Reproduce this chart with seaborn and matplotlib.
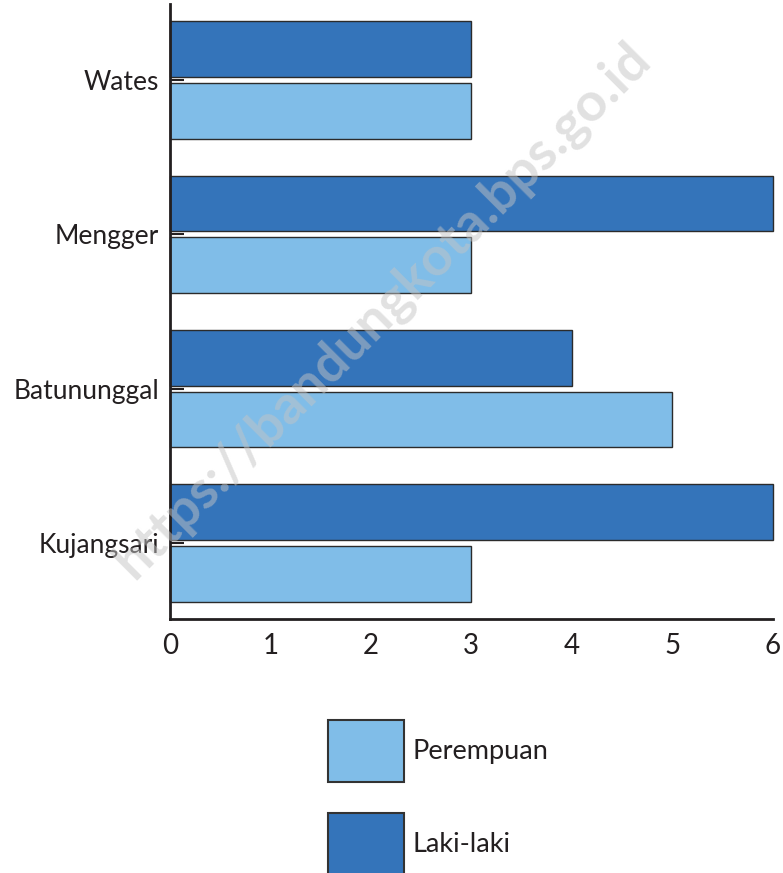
import pandas as pd
import matplotlib
matplotlib.use("Agg")
import matplotlib.pyplot as plt
import matplotlib.patches as mpatches
import seaborn as sns

# Data
categories = ["Wates", "Mengger", "Batununggal", "Kujangsari"]
laki_laki = [3, 6, 4, 6]
perempuan = [3, 3, 5, 3]
x_ticks = [0, 1, 2, 3, 4, 5, 6]

dark_blue = "#3474ba"
light_blue = "#80bde8"
edge = "#2b2b2b"
text_col = "#231f20"

df = pd.DataFrame({
    "Kelurahan": categories * 2,
    "Jumlah": laki_laki + perempuan,
    "Jenis": ["Laki-laki"] * len(categories) + ["Perempuan"] * len(categories),
})

sns.set_theme(style="white")
plt.rcParams["font.family"] = ["Lato", "DejaVu Sans"]

fig = plt.figure(figsize=(7.83, 8.73), dpi=100)
ax = fig.add_axes([0.2171, 0.2910, 0.7695, 0.7045])

sns.barplot(
    data=df, y="Kelurahan", x="Jumlah", hue="Jenis",
    hue_order=["Laki-laki", "Perempuan"],
    palette={"Laki-laki": dark_blue, "Perempuan": light_blue},
    order=categories, orient="h", width=0.8, gap=0.1,
    edgecolor=edge, linewidth=1.0, saturation=1, legend=False, ax=ax,
)
for p in ax.patches:
    p.set_clip_on(False)

ax.set_xlim(0, 6)
ax.set_ylim(3.4925, -0.4925)
ax.set_xticks(x_ticks)
ax.set_xlabel("")
ax.set_ylabel("")

for side in ["top", "right"]:
    ax.spines[side].set_visible(False)
for side in ["left", "bottom"]:
    ax.spines[side].set_linewidth(2)
    ax.spines[side].set_color(text_col)

ax.tick_params(axis="x", direction="in", length=11, width=1.5, color=text_col,
               labelsize=20, labelcolor=text_col, pad=10)
ax.tick_params(axis="y", direction="in", length=10, width=1.5, color=text_col,
               labelsize=19, labelcolor=text_col, pad=8, left=True)

# watermark
fig.text(0.489, 0.645, "https://bandungkota.bps.go.id", rotation=45,
         ha="center", va="center", fontsize=39, fontweight="bold",
         color="#c4c4c4", alpha=0.5, zorder=10)

# legend
handles = [
    mpatches.Patch(facecolor=light_blue, edgecolor="#333333", linewidth=1.5, label="Perempuan"),
    mpatches.Patch(facecolor=dark_blue, edgecolor="#333333", linewidth=1.5, label="Laki-laki"),
]
fig.legend(handles=handles, loc="upper left", bbox_to_anchor=(0.4189, 0.1753),
           frameon=False, fontsize=19.5, handlelength=2.8, handleheight=3.16,
           labelspacing=1.14, handletextpad=0.33, borderpad=0, borderaxespad=0,
           labelcolor=text_col)

fig.savefig("out.png", dpi=100)
